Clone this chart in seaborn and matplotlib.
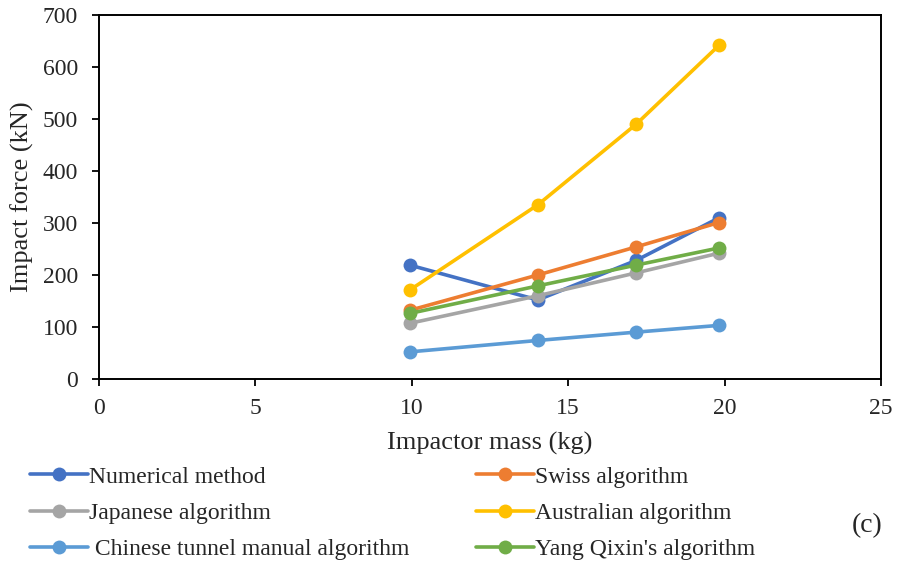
import numpy as np
import pandas as pd
import seaborn as sns
import matplotlib.pyplot as plt

mass = [9.94, 14.03, 17.17, 19.82]
numerical = [219, 152, 228, 310]
swiss = [132, 200, 254, 301]
japanese = [107, 160, 204, 242]
australian = [171, 335, 490, 642]
chinese = [52, 74, 90, 103]
yang = [126, 179, 219, 252]

names = ["Numerical method", "Swiss algorithm", "Japanese algorithm",
         "Australian algorithm", " Chinese tunnel manual algorithm",
         "Yang Qixin's algorithm"]
colors = ["#4472C4", "#ED7D31", "#A5A5A5", "#FFC000", "#5B9BD5", "#70AD47"]

series = [numerical, swiss, japanese, australian, chinese, yang]
df = pd.DataFrame({
    "mass": mass * len(series),
    "force": sum(series, []),
    "method": np.repeat(names, len(mass)),
})

sns.set_style("white")
plt.rcParams['font.family'] = ['Liberation Serif', 'DejaVu Serif']

fig = plt.figure(figsize=(9.14, 5.63), dpi=100)
ax = fig.add_axes([0.108, 0.327, 0.856, 0.646])

sns.lineplot(data=df, x="mass", y="force", hue="method", hue_order=names,
             palette=colors, marker="o", markersize=10, markeredgewidth=0,
             linewidth=2.6, ax=ax, legend=False)

ax.set_xlim(0, 25)
ax.set_ylim(0, 700)
ax.set_xticks(range(0, 26, 5))
ax.set_yticks(range(0, 701, 100))
ax.tick_params(axis='both', labelsize=17, direction='out', length=5,
               width=1.3, color='black', left=True, bottom=True)
ax.tick_params(axis='x', pad=9)
ax.tick_params(axis='y', pad=10)
for s in ax.spines.values():
    s.set_color('black')
    s.set_linewidth(1.4)
ax.set_xlabel("Impactor mass (kg)", fontsize=19, labelpad=9)
ax.set_ylabel("Impact force (kN)", fontsize=19, labelpad=6)

# legend filled row by row, two columns
handles = [plt.Line2D([], [], color=c, marker='o', markersize=10,
                      markeredgewidth=0, linewidth=2.6) for c in colors]
order = [0, 2, 4, 1, 3, 5]
fig.legend([handles[i] for i in order], [names[i] for i in order], ncol=2,
           loc='upper left', bbox_to_anchor=(0.033, 0.172),
           frameon=False, fontsize=17, handlelength=2.45, handletextpad=0.05,
           labelspacing=0.62, borderaxespad=0, borderpad=0, columnspacing=2.8)
fig.text(0.965, 0.055, "(c)", fontsize=20, ha='right')

fig.savefig("out.png", dpi=100)
